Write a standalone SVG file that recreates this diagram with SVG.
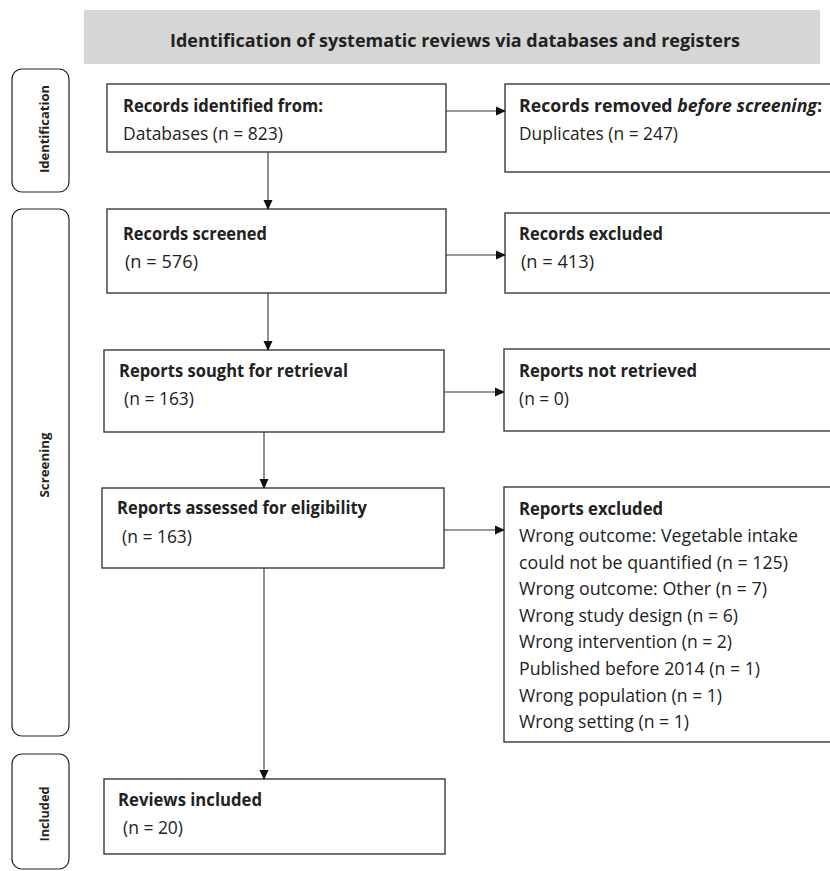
<svg xmlns="http://www.w3.org/2000/svg" width="830" height="871" viewBox="0 0 830 871">
<style>
.box{fill:#fff;stroke:#3a3a3a;stroke-width:1.4}
.side{fill:#fff;stroke:#222;stroke-width:1.2}
.t{font-family:"Open Sans","Noto Sans",sans-serif;font-size:17.5px;fill:#222}
.b{font-weight:bold}
.side-t{font-family:"Open Sans","Noto Sans",sans-serif;font-size:13px;font-weight:bold;fill:#222}
.conn line{stroke:#333;stroke-width:1.1}
</style>
<defs>
<marker id="ah" markerWidth="10" markerHeight="10" refX="9" refY="5" orient="auto" markerUnits="userSpaceOnUse">
<path d="M0,0.5 L10,5 L0,9.5 Z" fill="#111"/>
</marker>
</defs>
<rect x="0" y="0" width="830" height="871" fill="#fff"/>
<g id="header">
<rect x="84" y="10" width="736" height="54" fill="#d6d6d6"/>
<text class="t b" x="170" y="47" font-size="19.5" textLength="570" lengthAdjust="spacingAndGlyphs">Identification of systematic reviews via databases and registers</text>
</g>
<g id="phase-identification">
<rect class="side" x="12" y="69" width="57" height="123" rx="10"/>
<text class="side-t" transform="translate(48.5,129) rotate(-90)" text-anchor="middle" textLength="88" lengthAdjust="spacingAndGlyphs">Identification</text>
</g>
<g id="phase-screening">
<rect class="side" x="12" y="209" width="57" height="527" rx="10"/>
<text class="side-t" transform="translate(48.5,465) rotate(-90)" text-anchor="middle" textLength="65" lengthAdjust="spacingAndGlyphs">Screening</text>
</g>
<g id="phase-included">
<rect class="side" x="12" y="754" width="57" height="115" rx="10"/>
<text class="side-t" transform="translate(48.5,814) rotate(-90)" text-anchor="middle" textLength="55" lengthAdjust="spacingAndGlyphs">Included</text>
</g>
<g id="n-identified">
<rect class="box" x="107" y="84" width="339" height="68"/>
<text class="t b" x="123" y="112" textLength="200" lengthAdjust="spacingAndGlyphs">Records identified from:</text>
<text class="t" x="123" y="140" textLength="160" lengthAdjust="spacingAndGlyphs">Databases (n = 823)</text>
</g>
<g id="n-removed">
<rect class="box" x="505" y="84" width="340" height="88"/>
<text class="t b" x="519" y="112" textLength="303" lengthAdjust="spacingAndGlyphs">Records removed <tspan font-style="italic">before screening</tspan>:</text>
<text class="t" x="519" y="140" textLength="159" lengthAdjust="spacingAndGlyphs">Duplicates (n = 247)</text>
</g>
<g id="n-screened">
<rect class="box" x="107" y="209" width="339" height="84"/>
<text class="t b" x="123" y="240" textLength="144" lengthAdjust="spacingAndGlyphs">Records screened</text>
<text class="t" x="125" y="268" textLength="73" lengthAdjust="spacingAndGlyphs">(n = 576)</text>
</g>
<g id="n-excluded">
<rect class="box" x="505" y="213" width="340" height="80"/>
<text class="t b" x="519" y="240" textLength="144" lengthAdjust="spacingAndGlyphs">Records excluded</text>
<text class="t" x="521" y="268" textLength="73" lengthAdjust="spacingAndGlyphs">(n = 413)</text>
</g>
<g id="n-sought">
<rect class="box" x="104" y="350" width="340" height="82"/>
<text class="t b" x="119" y="377" textLength="229" lengthAdjust="spacingAndGlyphs">Reports sought for retrieval</text>
<text class="t" x="124" y="405" textLength="70" lengthAdjust="spacingAndGlyphs">(n = 163)</text>
</g>
<g id="n-notretrieved">
<rect class="box" x="504" y="349" width="340" height="82"/>
<text class="t b" x="519" y="377" textLength="178" lengthAdjust="spacingAndGlyphs">Reports not retrieved</text>
<text class="t" x="519" y="405" textLength="50" lengthAdjust="spacingAndGlyphs">(n = 0)</text>
</g>
<g id="n-assessed">
<rect class="box" x="102" y="488" width="342" height="80"/>
<text class="t b" x="117" y="514" textLength="250" lengthAdjust="spacingAndGlyphs">Reports assessed for eligibility</text>
<text class="t" x="122" y="543" textLength="70" lengthAdjust="spacingAndGlyphs">(n = 163)</text>
</g>
<g id="n-reportsexcluded">
<rect class="box" x="504" y="487" width="340" height="255"/>
<text class="t b" x="519" y="515" textLength="144" lengthAdjust="spacingAndGlyphs">Reports excluded</text>
<text class="t" x="519" y="542" textLength="279" lengthAdjust="spacingAndGlyphs">Wrong outcome: Vegetable intake</text>
<text class="t" x="519" y="569" textLength="269" lengthAdjust="spacingAndGlyphs">could not be quantified (n = 125)</text>
<text class="t" x="519" y="595" textLength="248" lengthAdjust="spacingAndGlyphs">Wrong outcome: Other (n = 7)</text>
<text class="t" x="519" y="622" textLength="219" lengthAdjust="spacingAndGlyphs">Wrong study design (n = 6)</text>
<text class="t" x="519" y="648" textLength="213" lengthAdjust="spacingAndGlyphs">Wrong intervention (n = 2)</text>
<text class="t" x="519" y="675" textLength="241" lengthAdjust="spacingAndGlyphs">Published before 2014 (n = 1)</text>
<text class="t" x="519" y="702" textLength="203" lengthAdjust="spacingAndGlyphs">Wrong population (n = 1)</text>
<text class="t" x="519" y="728" textLength="170" lengthAdjust="spacingAndGlyphs">Wrong setting (n = 1)</text>
</g>
<g id="n-included">
<rect class="box" x="104" y="779" width="341" height="75"/>
<text class="t b" x="118" y="806" textLength="144" lengthAdjust="spacingAndGlyphs">Reviews included</text>
<text class="t" x="123" y="834" textLength="60" lengthAdjust="spacingAndGlyphs">(n = 20)</text>
</g>
<g id="connectors" class="conn">
<line x1="446" y1="111" x2="505" y2="111" marker-end="url(#ah)"/>
<line x1="268" y1="152" x2="268" y2="209" marker-end="url(#ah)"/>
<line x1="446" y1="255" x2="505" y2="255" marker-end="url(#ah)"/>
<line x1="268" y1="293" x2="268" y2="350" marker-end="url(#ah)"/>
<line x1="444" y1="392" x2="504" y2="392" marker-end="url(#ah)"/>
<line x1="264" y1="432" x2="264" y2="488" marker-end="url(#ah)"/>
<line x1="444" y1="530" x2="504" y2="530" marker-end="url(#ah)"/>
<line x1="264" y1="568" x2="264" y2="779" marker-end="url(#ah)"/>
</g>
</svg>
